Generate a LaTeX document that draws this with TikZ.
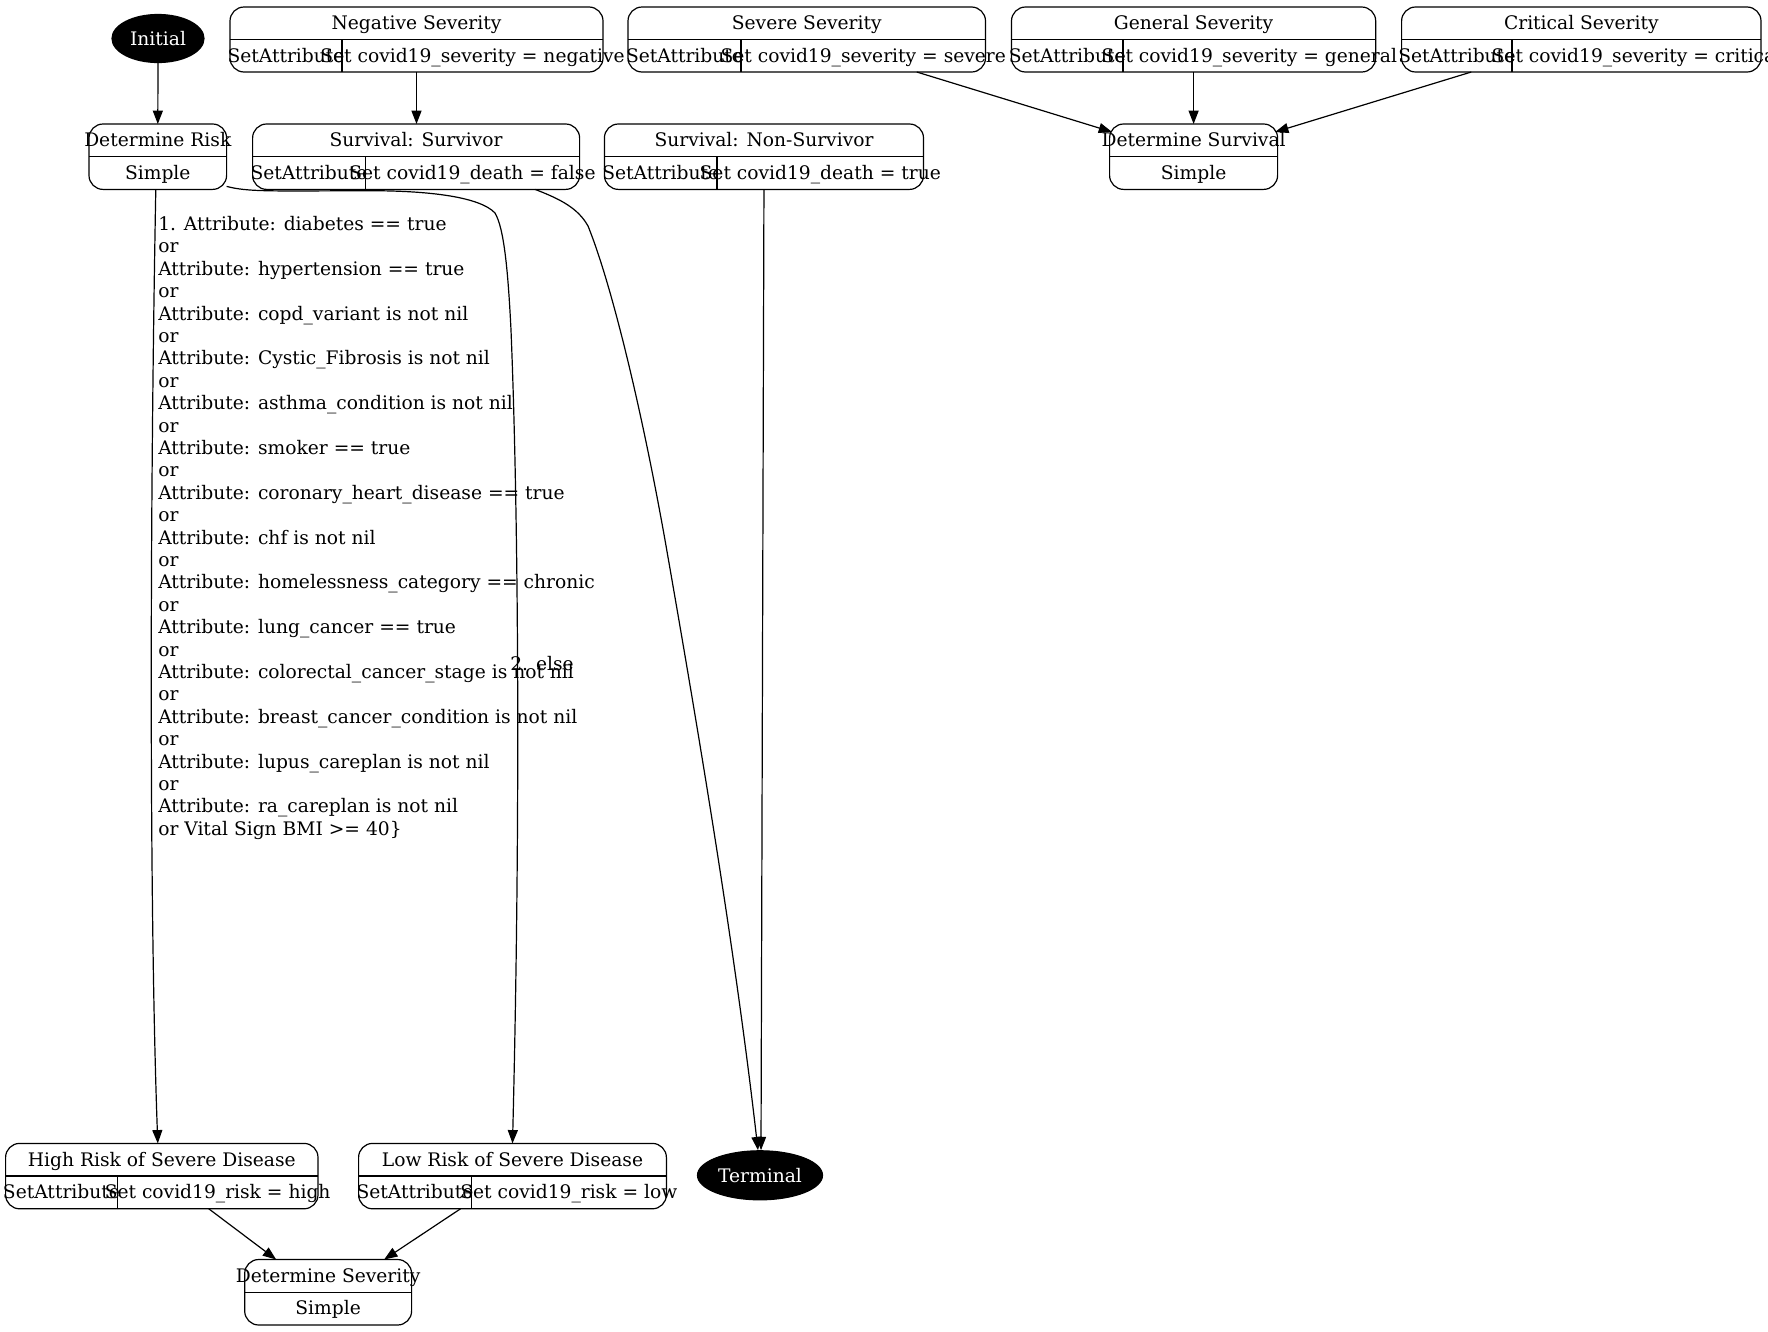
\documentclass[tikz,border=0pt]{standalone}
\usepackage{fontspec}
\setmainfont{DejaVu Serif}
\usetikzlibrary{fit,shapes.geometric,arrows.meta,calc}

% record box: name, x1, y1, x2, y2, y of the header rule
\newcommand{\recbox}[6]{%
  \node[rbox, fit={(#2,#3) (#4,#5)}] (#1) {};
  \draw[rule] (#2,#6) -- (#4,#6);
}

\begin{document}
\begin{tikzpicture}[x=0.75pt,y=-0.75pt,
  every node/.style={font=\fontsize{14}{16.8}\selectfont},
  rbox/.style={draw, line width=0.9pt, rounded corners=10.5pt, inner sep=0pt, outer sep=0pt},
  rule/.style={line width=0.9pt},
  txt/.style={anchor=base, inner sep=0pt},
  term/.style={ellipse, draw, fill=black, text=white, inner sep=0pt, line width=0.9pt},
  arr/.style={-{Triangle[length=10pt,width=7.5pt]}, line width=0.9pt},
  cond/.style={anchor=north west, align=left, inner sep=0pt}
]
\fill[white] (0,0) rectangle (1768,1332);
\useasboundingbox (0,0) rectangle (1768,1332);

% ---------- start / end states ----------
\node[term, minimum width=69pt, minimum height=36pt] (init) at (158,38.5) {Initial};
\node[term, minimum width=93.75pt, minimum height=36.75pt] (term) at (760,1175.3) {Terminal};

% ---------- top row: severity setters ----------
\recbox{neg}{230}{7}{603}{72}{39.5}
\draw[rule] (342,39.5) -- (342,72);
\node[txt] (neg-t) at (416.5,29.5) {Negative Severity};
\node[txt] (neg-l) at (286,62) {SetAttribute};
\node[txt] (neg-r) at (472.5,62) {Set covid19\_severity = negative};

\recbox{sev}{628}{7}{985.5}{72}{39.5}
\draw[rule] (741,39.5) -- (741,72);
\node[txt] (sev-t) at (806.75,29.5) {Severe Severity};
\node[txt] (sev-l) at (684.5,62) {SetAttribute};
\node[txt] (sev-r) at (863.25,62) {Set covid19\_severity = severe};

\recbox{gen}{1011.5}{7}{1375.7}{72}{39.5}
\draw[rule] (1123,39.5) -- (1123,72);
\node[txt] (gen-t) at (1193.6,29.5) {General Severity};
\node[txt] (gen-l) at (1067.25,62) {SetAttribute};
\node[txt] (gen-r) at (1249.35,62) {Set covid19\_severity = general};

\recbox{crit}{1401.6}{7}{1761}{72}{39.5}
\draw[rule] (1512,39.5) -- (1512,72);
\node[txt] (crit-t) at (1581.3,29.5) {Critical Severity};
\node[txt] (crit-l) at (1456.8,62) {SetAttribute};
\node[txt] (crit-r) at (1636.5,62) {Set covid19\_severity = critical};

% ---------- second row ----------
\recbox{risk}{89}{124}{226.6}{189.4}{156.7}
\node[txt] (risk-t) at (157.8,146.6) {Determine Risk};
\node[txt] (risk-b) at (157.8,179.3) {Simple};

\recbox{surv}{252.6}{124}{579.6}{189.4}{156.7}
\draw[rule] (365.3,156.7) -- (365.3,189.4);
\node[txt] (surv-t) at (416.1,146.6) {Survival: Survivor};
\node[txt] (surv-l) at (308.95,179.3) {SetAttribute};
\node[txt] (surv-r) at (472.45,179.3) {Set covid19\_death = false};

\recbox{nonsurv}{604.4}{124}{923.5}{189.4}{156.7}
\draw[rule] (717,156.7) -- (717,189.4);
\node[txt] (nonsurv-t) at (764,146.6) {Survival: Non-Survivor};
\node[txt] (nonsurv-l) at (660.7,179.3) {SetAttribute};
\node[txt] (nonsurv-r) at (820.25,179.3) {Set covid19\_death = true};

\recbox{detsurv}{1109.6}{124}{1277.6}{189.4}{156.7}
\node[txt] (detsurv-t) at (1193.6,146.6) {Determine Survival};
\node[txt] (detsurv-b) at (1193.6,179.3) {Simple};

% ---------- bottom rows ----------
\recbox{high}{5.6}{1143.4}{318}{1208.8}{1176}
\draw[rule] (117.3,1176) -- (117.3,1208.8);
\node[txt] (high-t) at (161.8,1166) {High Risk of Severe Disease};
\node[txt] (high-l) at (61.45,1198.7) {SetAttribute};
\node[txt] (high-r) at (217.65,1198.7) {Set covid19\_risk = high};

\recbox{low}{358.6}{1143.4}{666.4}{1208.8}{1176}
\draw[rule] (471.3,1176) -- (471.3,1208.8);
\node[txt] (low-t) at (512.5,1166) {Low Risk of Severe Disease};
\node[txt] (low-l) at (414.95,1198.7) {SetAttribute};
\node[txt] (low-r) at (568.85,1198.7) {Set covid19\_risk = low};

\recbox{detsev}{244.7}{1259.5}{411.6}{1325}{1292.2}
\node[txt] (detsev-t) at (328.15,1282.1) {Determine Severity};
\node[txt] (detsev-b) at (328.15,1314.9) {Simple};

% ---------- transitions ----------
\draw[arr] (init.south) -- (risk.north);
\draw[arr] (neg.south) -- (neg.south |- surv.north);
\draw[arr] ($(sev.south)+(110,0)$) -- ($(detsurv.north west)+(2.5,8)$);
\draw[arr] (gen.south) -- (detsurv.north);
\draw[arr] ($(crit.south)+(-110,0)$) -- ($(detsurv.north east)+(-2.5,8)$);

\draw[arr] ($(risk.south)+(-2,0)$) .. controls (150,500) and (149,900) .. ($(high.north)+(-4,0)$);
\draw[arr] ($(risk.south east)+(0,-3)$) .. controls (248,192) and (270,191) .. (366,190.7)
  .. controls (430,190.5) and (480,197) .. (495,213)
  .. controls (504,228) and (508,270) .. (511,330)
  .. controls (518,500) and (521,800) .. (low.north);

\draw[arr] ($(surv.south)+(119,0)$) .. controls (560,199) and (578,208) .. (588,226)
  .. controls (610,280) and (640,400) .. (665,540)
  .. controls (700,740) and (735,950) .. ($(term.north)+(-2,0)$);
\draw[arr] (nonsurv.south) -- ($(term.north)+(1,0)$);

\draw[arr] ($(high.south)+(47,0)$) -- ($(detsev.north)+(-52,0)$);
\draw[arr] ($(low.south)+(-52,0)$) -- ($(detsev.north)+(56,0)$);

% ---------- transition conditions ----------
\node[cond] (c1) at (158,216) {1. Attribute: diabetes == true\\
or\\
Attribute: hypertension == true\\
or\\
Attribute: copd\_variant is not nil\\
or\\
Attribute: Cystic\_Fibrosis is not nil\\
or\\
Attribute: asthma\_condition is not nil\\
or\\
Attribute: smoker == true\\
or\\
Attribute: coronary\_heart\_disease == true\\
or\\
Attribute: chf is not nil\\
or\\
Attribute: homelessness\_category == chronic\\
or\\
Attribute: lung\_cancer == true\\
or\\
Attribute: colorectal\_cancer\_stage is not nil\\
or\\
Attribute: breast\_cancer\_condition is not nil\\
or\\
Attribute: lupus\_careplan is not nil\\
or\\
Attribute: ra\_careplan is not nil\\
or Vital Sign BMI >= 40\}};
\node[txt] (c2) at (542,670) {2. else};
\end{tikzpicture}
\end{document}
